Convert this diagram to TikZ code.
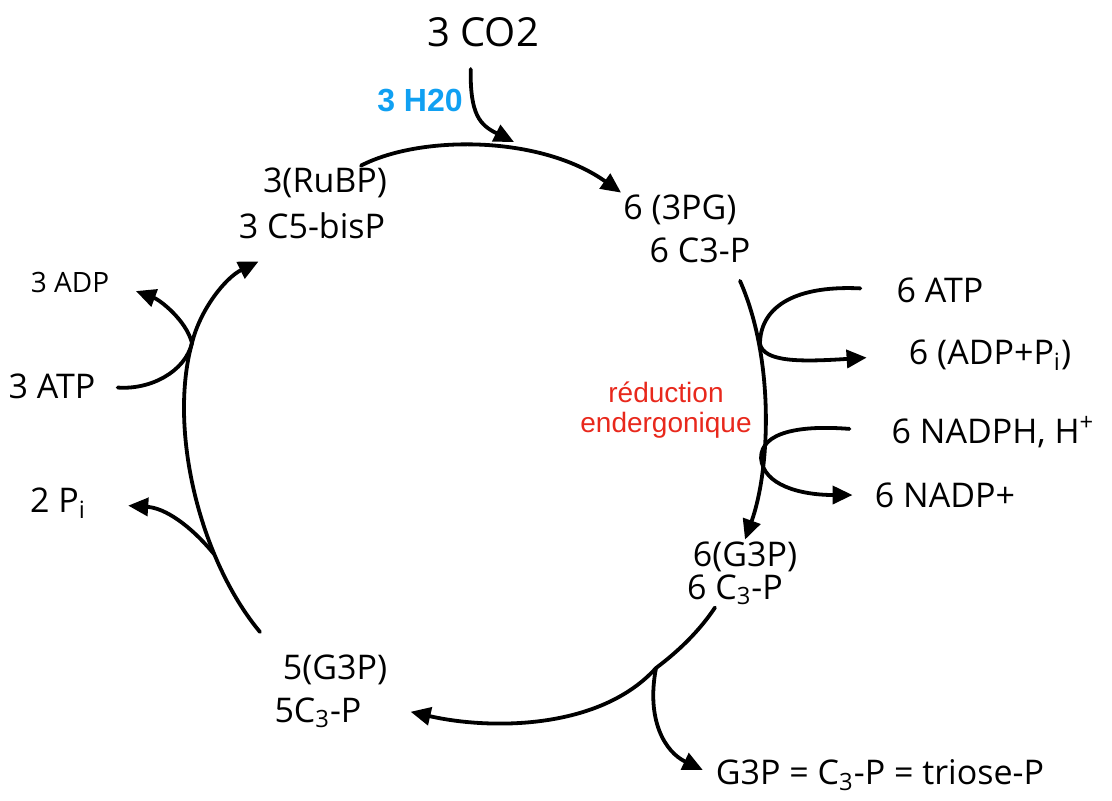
\documentclass[tikz,border=0pt]{standalone}
\usepackage{fontspec}
\setmainfont{Open Sans}
\newfontfamily\printfont{Liberation Sans}
\usetikzlibrary{arrows.meta}
\definecolor{waterblue}{RGB}{16,160,242}
\definecolor{notered}{RGB}{232,40,28}

\begin{document}
\begin{tikzpicture}[x=0.5pt, y=-0.5pt,
    hand/.style={font=\fontsize{17}{20}\selectfont, inner sep=1pt},
    small/.style={font=\fontsize{14}{17}\selectfont, inner sep=1pt},
    curve/.style={line width=1.9pt, line cap=round},
    flow/.style={curve, -{Triangle[length=10pt, width=9pt]}}]
  \useasboundingbox (0, 0) rectangle (1112, 800);
  % entree
  \node [hand, font=\fontsize{20}{24}\selectfont] (co2) at (483, 32) {3 CO2};
  \node [font=\printfont\bfseries\fontsize{16}{19}\selectfont, text=waterblue] (h2o) at (420, 100) {3 H20};
  \coordinate (co2in) at (514, 142);
  % molecules du cycle
  \node [hand] (rubp)  at (325, 183) {3(RuBP)};
  \node [hand] (rubpc) at (312, 226) {3 C5-bisP};
  \node [hand] (pg)    at (680, 210) {6 (3PG)};
  \node [hand] (pgc)   at (700, 250) {6 C3-P};
  \node [hand] (g3p)   at (745, 557) {6(G3P)};
  \node [hand] (g3pc)  at (735, 590) {6 C\textsubscript{3}-P};
  \node [hand] (g5)    at (335, 670) {5(G3P)};
  \node [hand] (g5c)   at (318, 713) {5C\textsubscript{3}-P};
  \node [hand] (triose) at (880, 775) {G3P = C\textsubscript{3}-P = triose-P};
  % cofacteurs
  \node [hand] (atp)   at (940, 290) {6 ATP};
  \node [hand] (adp)   at (990, 355) {6 (ADP+P\textsubscript{i})};
  \node [hand] (nadph) at (993, 432) {6 NADPH, H\textsuperscript{+}};
  \node [hand] (nadp)  at (945, 495) {6 NADP+};
  \node [small] (adp3) at (70, 282) {3 ADP};
  \node [hand] (atp3)  at (52, 386) {3 ATP};
  \node [hand] (pi)    at (58, 503) {2 P\textsubscript{i}};
  \node [font=\printfont\fontsize{14}{15}\selectfont, text=notered, align=center] (redu) at (666, 410) {réduction\\endergonique};
  % fixation
  \draw [flow] ([xshift=18pt]rubp.north) .. controls (420, 135) and (540, 135) .. (pg.north west);
  \draw [flow, shorten <=10pt] ([xshift=-6pt]co2.south) .. controls (470, 115) and (480, 125) .. (co2in);
  % reduction
  \coordinate (j1) at (760, 344);
  \coordinate (j2) at (761, 458);
  \draw [flow] ([xshift=20pt, yshift=-8pt]pgc.south) .. controls (775, 360) and (770, 470) .. (g3p.north);
  \draw [flow, shorten <=17pt, shorten >=20pt] (atp.west) .. controls (790, 285) and (760, 310) .. (j1)
        .. controls (764, 362) and (800, 362) .. (adp.west);
  \draw [flow, shorten <=20pt, shorten >=10pt] (nadph.west) .. controls (800, 425) and (761, 432) .. (j2)
        .. controls (763, 485) and (800, 495) .. (nadp.west);
  % sortie
  \coordinate (j5) at (656, 668);
  \draw [flow, shorten >=24pt] ([xshift=-10pt]g3pc.south) .. controls (700, 630) and (680, 650) .. (j5)
        .. controls (600, 730) and (490, 730) .. ([yshift=6pt]g5c.east);
  \draw [flow, shorten >=6pt] (j5) .. controls (646, 720) and (665, 752) .. (triose.west);
  % regeneration
  \coordinate (loopin) at (260, 632);
  \coordinate (j3) at (192, 343);
  \coordinate (j4) at (214, 554);
  \draw [flow] (loopin) .. controls (200, 560) and (168, 430) .. (j3)
        .. controls (200, 310) and (225, 278) .. ([xshift=11pt, yshift=-10pt]rubpc.south west);
  \draw [flow, shorten <=10pt, shorten >=13pt] (atp3.east) .. controls (150, 390) and (185, 372) .. (j3)
        .. controls (186, 320) and (160, 300) .. (adp3.east);
  \draw [flow, shorten >=20pt] (j4) .. controls (190, 525) and (165, 508) .. (pi.east);
\end{tikzpicture}
\end{document}
